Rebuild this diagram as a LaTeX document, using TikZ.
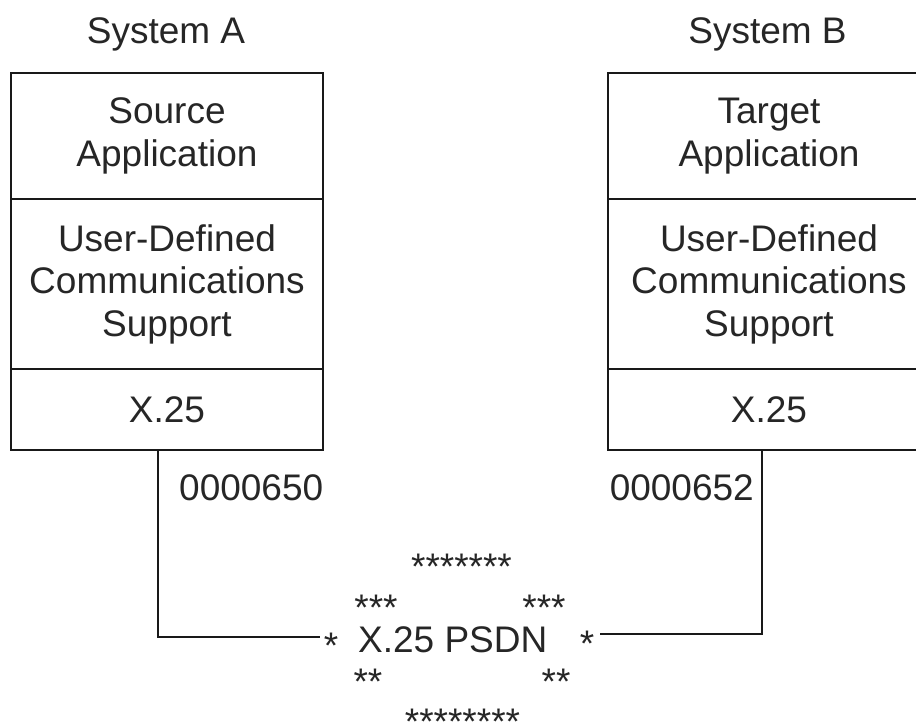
\documentclass[tikz,border=0pt]{standalone}
\usepackage{fontspec}
\setmainfont{Liberation Sans}
\begin{document}
\begin{tikzpicture}[x=1pt,y=-1pt,
  every node/.style={font=\fontsize{37}{42.5}\selectfont, text=black!85, inner sep=0pt},
  sect/.style={draw=black!90, line width=1.5pt, align=center},
  secta/.style={sect, minimum width=312pt},
  sectb/.style={sect, minimum width=322pt},
  conn/.style={draw=black!90, line width=1.5pt}]
\useasboundingbox (0,0) rectangle (916,721);
\clip (0,0) rectangle (916,721);
% titles
\node[anchor=base] (tA) at (166,43) {System A};
\node[anchor=base] (tB) at (767.5,43) {System B};
% System A stack
\node[secta, minimum height=126pt] (a1) at (167,136) {Source\\Application};
\node[secta, minimum height=170pt] (a2) at (167,284) {User-Defined\\Communications\\Support};
\node[secta, minimum height=81pt]  (a3) at (167,409.5) {X.25};
% System B stack
\node[sectb, minimum height=126pt] (b1) at (769,136) {Target\\Application};
\node[sectb, minimum height=170pt] (b2) at (769,284) {User-Defined\\Communications\\Support};
\node[sectb, minimum height=81pt]  (b3) at (769,409.5) {X.25};
% addresses
\node[anchor=base west] (adA) at (179,500) {0000650};
\node[anchor=base east] (adB) at (754,500) {0000652};
% network cloud
\node[anchor=base] (s1) at (461.5,579) {*******};
\node[anchor=base] (s2l) at (376,620) {***};
\node[anchor=base] (s2r) at (544,620) {***};
\node[anchor=base west] (net) at (358,652) {X.25 PSDN};
\node[anchor=base] (sl) at (331,658) {*};
\node[anchor=base] (sr) at (587,656) {*};
\node[anchor=base] (s3l) at (368,694) {**};
\node[anchor=base] (s3r) at (556,694) {**};
\node[anchor=base] (s4) at (462.5,734) {********};
% connectors
\coordinate (pa) at (158,450);
\coordinate (ea) at (320,637);
\coordinate (pb) at (762,450);
\coordinate (eb) at (600,634);
\draw[conn] (pa) |- (ea);
\draw[conn] (pb) |- (eb);
\end{tikzpicture}
\end{document}
